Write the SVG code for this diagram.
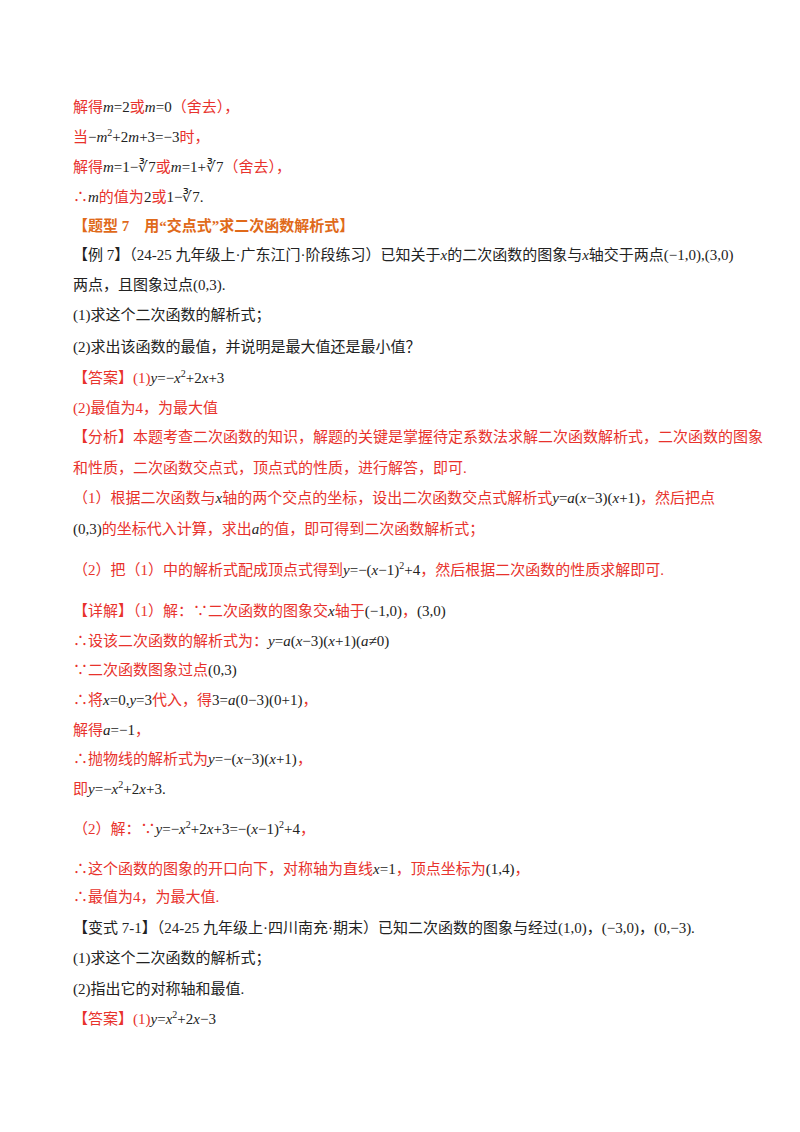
<svg xmlns="http://www.w3.org/2000/svg" width="800" height="1132" viewBox="0 0 800 1132">
<style>
text{font-family:"Liberation Serif","Noto Sans CJK SC",serif;font-size:15px;fill:#222}
.r{fill:#e8322c}
.o{fill:#e06a1a;font-weight:bold}
.i{font-style:italic}
.k{fill:#222}
</style>
<rect width="800" height="1132" fill="#fff"/>
<text class="r" x="73" y="112">解得<tspan class="i k">m</tspan><tspan class="k">=2</tspan>或<tspan class="i k">m</tspan><tspan class="k">=0</tspan>（舍去），</text>
<text class="r" x="73" y="142">当<tspan class="k">−</tspan><tspan class="i k">m</tspan><tspan class="k" dy="-6" font-size="10">2</tspan><tspan class="k" dy="6">+2</tspan><tspan class="i k">m</tspan><tspan class="k">+3=−3</tspan>时，</text>
<text class="r" x="73" y="172">解得<tspan class="i k">m</tspan><tspan class="k">=1−∛7</tspan>或<tspan class="i k">m</tspan><tspan class="k">=1+∛7</tspan>（舍去），</text>
<text class="r" x="73" y="202">∴<tspan class="i k">m</tspan>的值为<tspan class="k">2</tspan>或<tspan class="k">1−∛7.</tspan></text>
<text class="o" x="73" y="231">【题型 7　用“交点式”求二次函数解析式】</text>
<text x="73" y="260">【例 7】（24-25 九年级上·广东江门·阶段练习）已知关于<tspan class="i">x</tspan>的二次函数的图象与<tspan class="i">x</tspan>轴交于两点(−1,0),(3,0)</text>
<text x="73" y="290">两点，且图象过点(0,3).</text>
<text x="73" y="320">(1)求这个二次函数的解析式；</text>
<text x="73" y="352">(2)求出该函数的最值，并说明是最大值还是最小值？</text>
<text class="r" x="73" y="383">【答案】(1)<tspan class="i k">y</tspan><tspan class="k">=−</tspan><tspan class="i k">x</tspan><tspan class="k" dy="-6" font-size="10">2</tspan><tspan class="k" dy="6">+2</tspan><tspan class="i k">x</tspan><tspan class="k">+3</tspan></text>
<text class="r" x="73" y="413">(2)最值为4，为最大值</text>
<text class="r" x="73" y="442">【分析】本题考查二次函数的知识，解题的关键是掌握待定系数法求解二次函数解析式，二次函数的图象</text>
<text class="r" x="73" y="473">和性质，二次函数交点式，顶点式的性质，进行解答，即可.</text>
<text class="r" x="73" y="503">（1）根据二次函数与<tspan class="i k">x</tspan>轴的两个交点的坐标，设出二次函数交点式解析式<tspan class="i k">y</tspan><tspan class="k">=</tspan><tspan class="i k">a</tspan><tspan class="k">(</tspan><tspan class="i k">x</tspan><tspan class="k">−3)(</tspan><tspan class="i k">x</tspan><tspan class="k">+1)</tspan>，然后把点</text>
<text class="r" x="73" y="534"><tspan class="k">(0,3)</tspan>的坐标代入计算，求出<tspan class="i k">a</tspan>的值，即可得到二次函数解析式；</text>
<text class="r" x="73" y="575">（2）把（1）中的解析式配成顶点式得到<tspan class="i k">y</tspan><tspan class="k">=−(</tspan><tspan class="i k">x</tspan><tspan class="k">−1)</tspan><tspan class="k" dy="-6" font-size="10">2</tspan><tspan class="k" dy="6">+4</tspan>，然后根据二次函数的性质求解即可.</text>
<text class="r" x="73" y="616">【详解】（1）解：∵二次函数的图象交<tspan class="i k">x</tspan>轴于<tspan class="k">(−1,0)</tspan>，<tspan class="k">(3,0)</tspan></text>
<text class="r" x="73" y="646">∴设该二次函数的解析式为：<tspan class="i k">y</tspan><tspan class="k">=</tspan><tspan class="i k">a</tspan><tspan class="k">(</tspan><tspan class="i k">x</tspan><tspan class="k">−3)(</tspan><tspan class="i k">x</tspan><tspan class="k">+1)(</tspan><tspan class="i k">a</tspan><tspan class="k">≠0)</tspan></text>
<text class="r" x="73" y="675">∵二次函数图象过点<tspan class="k">(0,3)</tspan></text>
<text class="r" x="73" y="705">∴将<tspan class="i k">x</tspan><tspan class="k">=0,</tspan><tspan class="i k">y</tspan><tspan class="k">=3</tspan>代入，得<tspan class="k">3=</tspan><tspan class="i k">a</tspan><tspan class="k">(0−3)(0+1)</tspan>，</text>
<text class="r" x="73" y="735">解得<tspan class="i k">a</tspan><tspan class="k">=−1</tspan>，</text>
<text class="r" x="73" y="764">∴抛物线的解析式为<tspan class="i k">y</tspan><tspan class="k">=−(</tspan><tspan class="i k">x</tspan><tspan class="k">−3)(</tspan><tspan class="i k">x</tspan><tspan class="k">+1)</tspan>，</text>
<text class="r" x="73" y="794">即<tspan class="i k">y</tspan><tspan class="k">=−</tspan><tspan class="i k">x</tspan><tspan class="k" dy="-6" font-size="10">2</tspan><tspan class="k" dy="6">+2</tspan><tspan class="i k">x</tspan><tspan class="k">+3.</tspan></text>
<text class="r" x="73" y="834">（2）解：∵<tspan class="i k">y</tspan><tspan class="k">=−</tspan><tspan class="i k">x</tspan><tspan class="k" dy="-6" font-size="10">2</tspan><tspan class="k" dy="6">+2</tspan><tspan class="i k">x</tspan><tspan class="k">+3=−(</tspan><tspan class="i k">x</tspan><tspan class="k">−1)</tspan><tspan class="k" dy="-6" font-size="10">2</tspan><tspan class="k" dy="6">+4</tspan>，</text>
<text class="r" x="73" y="874">∴这个函数的图象的开口向下，对称轴为直线<tspan class="i k">x</tspan><tspan class="k">=1</tspan>，顶点坐标为<tspan class="k">(1,4)</tspan>，</text>
<text class="r" x="73" y="902">∴最值为4，为最大值.</text>
<text x="73" y="933">【变式 7-1】（24-25 九年级上·四川南充·期末）已知二次函数的图象与经过(1,0)，(−3,0)，(0,−3).</text>
<text x="73" y="963">(1)求这个二次函数的解析式；</text>
<text x="73" y="994">(2)指出它的对称轴和最值.</text>
<text class="r" x="73" y="1024">【答案】(1)<tspan class="i k">y</tspan><tspan class="k">=</tspan><tspan class="i k">x</tspan><tspan class="k" dy="-6" font-size="10">2</tspan><tspan class="k" dy="6">+2</tspan><tspan class="i k">x</tspan><tspan class="k">−3</tspan></text>
</svg>
